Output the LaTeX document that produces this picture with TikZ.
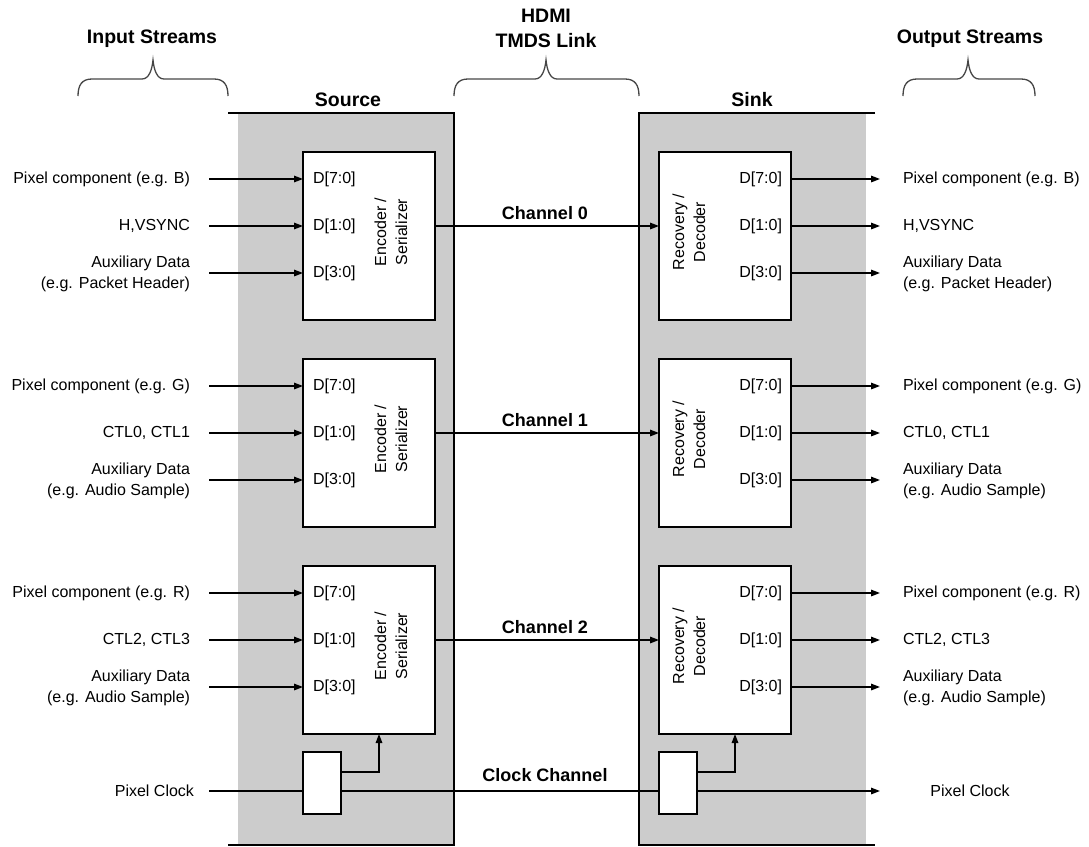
\documentclass[tikz,border=0pt]{standalone}
\usepackage{fontspec}
\setmainfont{Liberation Sans}
\usetikzlibrary{arrows.meta}
\definecolor{boxgray}{RGB}{204,204,204}
\definecolor{bracegray}{RGB}{70,70,70}
\newcommand{\mybrace}[3]{%
  \draw[brc] (#1,96) .. controls (#1,85) and (#1+4,79) .. (#1+14,79)
    -- (#3-11,79) .. controls (#3-4,79) and (#3-1,70) .. (#3,60)
    .. controls (#3+1,70) and (#3+4,79) .. (#3+11,79)
    -- (#2-14,79) .. controls (#2-4,79) and (#2,85) .. (#2,96);}
\begin{document}
\begin{tikzpicture}[x=1pt,y=-1pt,
  every node/.style={inner sep=0pt, outer sep=0pt},
  lbl/.style={font=\fontsize{16}{21}\selectfont},
  hdr/.style={font=\fontsize{19.5}{25}\selectfont\bfseries},
  chl/.style={font=\fontsize{18}{22}\selectfont\bfseries},
  blk/.style={draw, line width=1.5pt, fill=white, rectangle},
  wire/.style={line width=1.5pt},
  arr/.style={wire, -{Triangle[length=9pt,width=6.5pt]}},
  brc/.style={line width=1.3pt, bracegray},
]
\useasboundingbox (0,0) rectangle (1089,846);

% Source and Sink regions
\fill[boxgray] (238,113) rectangle (454,845);
\draw[wire] (228,113) -- (454,113) -- (454,845) -- (228,845);
\fill[boxgray] (639,113) rectangle (866,845);
\draw[wire] (875,113) -- (639,113) -- (639,845) -- (875,845);

% headers
\node[hdr] (hin) at (152,39) {Input Streams};
\node[hdr, align=center] (hlink) at (546,28) {HDMI\\TMDS Link};
\node[hdr] (hout) at (970,39) {Output Streams};
\node[hdr] (hsrc) at (348,100) {Source};
\node[hdr] (hsnk) at (752,100) {Sink};

\mybrace{78}{228}{153}
\mybrace{454}{639}{546}
\mybrace{903}{1035}{968}

\foreach \i/\pc/\ctl/\aux in {0/B/{H,VSYNC}/{Packet Header}, 1/G/{CTL0, CTL1}/{Audio Sample}, 2/R/{CTL2, CTL3}/{Audio Sample}} {
  \pgfmathsetmacro{\yo}{207*\i}
  % boxes
  \node[blk, minimum width=132pt, minimum height=168pt] (enc\i) at (369,236+\yo) {};
  \node[blk, minimum width=132pt, minimum height=168pt] (dec\i) at (725,236+\yo) {};
  \node[lbl, rotate=90, align=center] (enct\i) at (391,232+\yo) {Encoder /\\Serializer};
  \node[lbl, rotate=90, align=center] (dect\i) at (689,232+\yo) {Recovery /\\Decoder};
  % port labels
  \node[lbl, anchor=west] (e7\i) at (313,179+\yo) {D[7:0]};
  \node[lbl, anchor=west] (e1\i) at (313,226+\yo) {D[1:0]};
  \node[lbl, anchor=west] (e3\i) at (313,273+\yo) {D[3:0]};
  \node[lbl, anchor=east] (d7\i) at (782,179+\yo) {D[7:0]};
  \node[lbl, anchor=east] (d1\i) at (782,226+\yo) {D[1:0]};
  \node[lbl, anchor=east] (d3\i) at (782,273+\yo) {D[3:0]};
  % input labels
  \node[lbl, anchor=east] (i7\i) at (190,179+\yo) {Pixel component (e.g. \pc)};
  \node[lbl, anchor=east] (i1\i) at (190,226+\yo) {\ctl};
  \node[lbl, anchor=east, align=right] (i3\i) at (190,274+\yo) {Auxiliary Data\\(e.g. \aux)};
  % output labels
  \node[lbl, anchor=west] (o7\i) at (903,179+\yo) {Pixel component (e.g. \pc)};
  \node[lbl, anchor=west] (o1\i) at (903,226+\yo) {\ctl};
  \node[lbl, anchor=west, align=left] (o3\i) at (903,274+\yo) {Auxiliary Data\\(e.g. \aux)};
  % input arrows
  \coordinate (a7\i) at (209,179+\yo);
  \coordinate (a1\i) at (209,226+\yo);
  \coordinate (a3\i) at (209,273+\yo);
  \draw[arr] (a7\i) -- (a7\i -| enc\i.west);
  \draw[arr] (a1\i) -- (a1\i -| enc\i.west);
  \draw[arr] (a3\i) -- (a3\i -| enc\i.west);
  % output arrows
  \coordinate (b7\i) at (880,179+\yo);
  \coordinate (b1\i) at (880,226+\yo);
  \coordinate (b3\i) at (880,273+\yo);
  \draw[arr] (b7\i -| dec\i.east) -- (b7\i);
  \draw[arr] (b1\i -| dec\i.east) -- (b1\i);
  \draw[arr] (b3\i -| dec\i.east) -- (b3\i);
  % channel
  \draw[arr] (a1\i -| enc\i.east) -- (a1\i -| dec\i.west);
  \node[chl] (ch\i) at (545,213+\yo) {Channel \i};
}

% clock
\node[blk, minimum width=38pt, minimum height=62pt] (sclk) at (322,783) {};
\node[blk, minimum width=38pt, minimum height=62pt] (kclk) at (678,783) {};
\node[lbl, anchor=east] (pcin) at (194,791) {Pixel Clock};
\node[lbl] (pcout) at (970,791) {Pixel Clock};
\node[chl] (clkch) at (545,775) {Clock Channel};
\coordinate (pca) at (209,791);
\coordinate (pcb) at (880,791);
\draw[wire] (pca) -- (pca -| sclk.west);
\draw[wire] (pca -| sclk.east) -- (pca -| kclk.west);
\draw[arr] (pcb -| kclk.east) -- (pcb);
\coordinate (su) at (379,772);
\coordinate (ku) at (735,772);
\draw[arr] (su -| sclk.east) -- (su) -- (su |- enc2.south);
\draw[arr] (ku -| kclk.east) -- (ku) -- (ku |- dec2.south);
\end{tikzpicture}
\end{document}
